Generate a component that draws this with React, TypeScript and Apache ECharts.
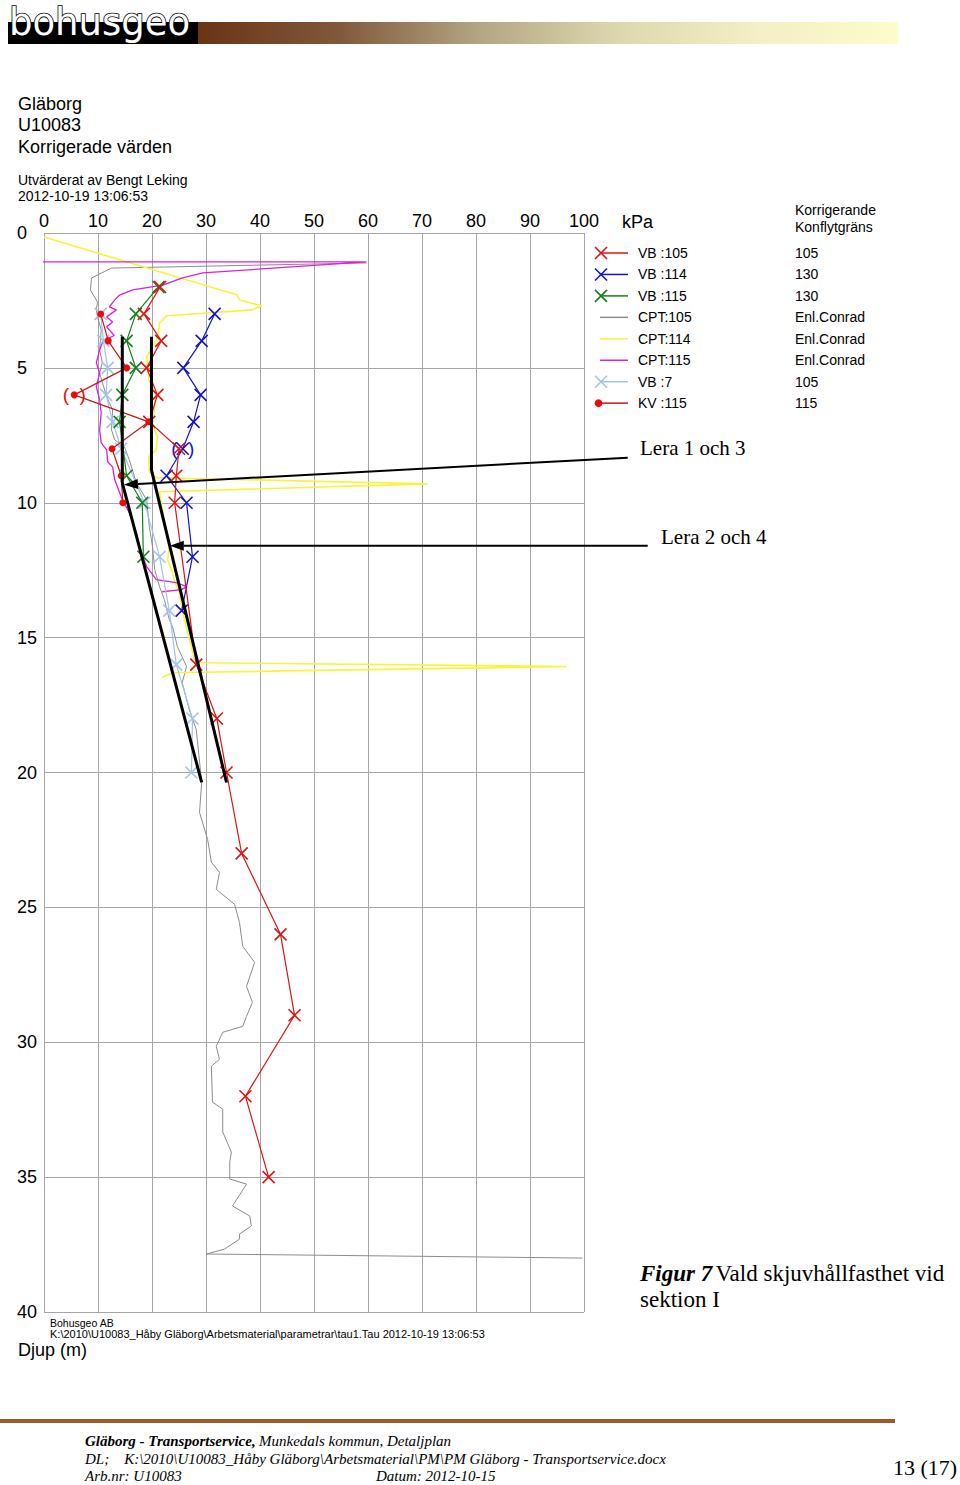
import React, { useEffect, useRef } from "react";
import * as echarts from "echarts";

// ---------- data (kPa, depth m) ----------
const xTicks = [0, 10, 20, 30, 40, 50, 60, 70, 80, 90, 100];
const depthTicks = [0, 5, 10, 15, 20, 25, 30, 35, 40];

const vb105: number[][] = [
  [21.5, 2], [18.5, 3], [21.7, 4], [19.0, 5], [21.0, 6], [19.5, 7], [25.0, 8], [24.5, 9], [24.2, 10],
  [28.2, 16], [32.0, 18], [33.8, 20], [36.6, 23], [43.8, 26], [46.4, 29], [37.3, 32], [41.6, 35],
];
const vb114: number[][] = [
  [31.6, 3], [29.2, 4], [25.8, 5], [29.0, 6], [27.7, 7], [25.7, 8], [22.7, 9], [26.4, 10], [27.5, 12], [25.5, 14],
];
const vb115: number[][] = [
  [21.2, 2], [17.0, 3], [15.3, 4], [17.0, 5], [14.5, 6], [14.0, 7], [15.3, 9], [18.2, 10], [18.4, 12],
];
const vb7: number[][] = [
  [10.5, 3], [11.0, 4], [11.8, 5], [11.5, 6], [12.7, 7], [14.3, 8], [18.6, 10], [21.4, 12], [23.2, 14],
  [24.5, 16], [27.5, 18], [27.3, 20],
];
const kv115: number[][] = [
  [10.5, 3], [11.9, 4], [15.3, 5], [5.6, 6], [19.4, 7], [12.6, 8], [14.3, 9], [14.6, 10],
];
const cpt105: number[][] = [
  [59.7, 1.11], [12.5, 1.3], [8.8, 1.67], [8.6, 2.11], [9.9, 2.56], [9.7, 2.85], [9.9, 3.11], [10.6, 3.59],
  [10.3, 4.33], [10.8, 4.8], [10.3, 5.19], [11.6, 6.07], [12.7, 6.56], [12.5, 7.3], [13.1, 7.67], [14.9, 7.93],
  [15.8, 8.41], [17.1, 9.26], [19.0, 9.89], [19.5, 10.89], [20.1, 11.63], [20.5, 12.48], [21.4, 13.11],
  [22.3, 13.59], [23.2, 14.33], [23.8, 14.59], [24.7, 15.33], [26.4, 16.07], [25.6, 16.67], [26.9, 17.67],
  [28.2, 18.41], [29.2, 20.37], [28.8, 21.48], [30.3, 22.48], [31.0, 23.33], [32.5, 23.7], [31.9, 24.33],
  [35.3, 24.89], [36.2, 25.56], [36.8, 26.44], [39.0, 27.04], [37.5, 27.93], [38.6, 28.52], [37.5, 29.04],
  [36.8, 29.41], [33.1, 29.63], [31.9, 30.15], [32.5, 30.63], [31.0, 30.89], [31.2, 32.22], [33.1, 32.48],
  [33.1, 33.33], [34.7, 34.07], [34.4, 34.44], [34.4, 35.07], [37.5, 35.26], [34.9, 36.07], [38.1, 36.44],
  [38.4, 36.81], [36.2, 37.11], [36.2, 37.3], [33.4, 37.67], [30.1, 37.85], [99.7, 38.0],
];
const cpt114: number[][] = [
  [0, 0.15], [35.8, 2.3], [36.2, 2.48], [40.3, 2.7], [38.6, 2.85], [22.7, 3.07], [21.4, 3.33], [21.0, 3.89],
  [19.0, 4.59], [19.4, 5.44], [20.8, 5.93], [20.1, 7.04], [21.0, 7.56], [20.8, 8.04], [19.4, 8.3], [19.5, 8.85],
  [20.8, 9.07], [71.0, 9.3], [21.4, 9.59], [21.9, 10.26], [22.7, 11.11], [23.2, 11.63], [22.9, 12.11],
  [23.8, 12.59], [24.2, 12.93], [25.1, 13.33], [25.6, 13.96], [26.6, 14.81], [27.9, 15.81], [28.4, 15.93],
  [96.8, 16.07], [23.8, 16.3], [21.8, 16.48],
];
const cpt115: number[][] = [
  [-6.9, 1.07], [59.7, 1.07], [29.4, 1.48], [25.5, 1.67], [22.0, 1.93], [16.4, 2.11], [14.0, 2.3], [13.1, 2.48],
  [12.1, 2.74], [13.4, 2.85], [11.6, 3.11], [12.7, 3.3], [11.6, 3.48], [13.0, 3.8], [11.0, 3.98], [10.3, 4.33],
  [9.7, 4.81], [10.3, 5.19], [9.7, 5.7], [10.3, 6.19], [10.6, 6.67], [10.3, 7.3], [10.6, 7.78], [11.6, 8.04],
  [11.8, 8.48], [12.7, 8.67], [13.1, 9.15], [14.5, 9.89], [15.8, 10.37], [17.1, 11.11], [17.7, 11.63],
  [19.0, 12.37], [20.8, 12.85], [24.5, 12.96], [26.4, 13.11], [25.5, 13.22], [21.9, 13.3],
];
const lera13: number[][] = [[14.5, 3.85], [14.5, 9.26], [29.2, 20.37]];
const lera24: number[][] = [[19.9, 3.85], [19.9, 8.78], [33.8, 20.37]];
const arrow13: number[][] = [[108.1, 8.33], [14.8, 9.33]];
const arrow24: number[][] = [[111.8, 11.59], [23.3, 11.59]];
const excludedKv = 3; // index in kv115 shown in brackets
const excludedVb114 = 5; // index in vb114 shown in brackets

const legendNames = ["VB :105", "VB :114", "VB :115", "CPT:105", "CPT:114", "CPT:115", "VB :7", "KV :115"];
const legendValues = ["105", "130", "130", "Enl.Conrad", "Enl.Conrad", "Enl.Conrad", "105", "115"];

// ---------- styles ----------
const C = {
  vb105: "#dd1515",
  vb114: "#1414c8",
  vb115: "#15801a",
  cpt105: "#8c8c8c",
  cpt114: "#f6f53c",
  cpt115: "#dc20dc",
  vb7: "#a2c4e6",
  kvLine: "#c41a1a",
  kvDot: "#ee0a0a",
};
const legendColors = [C.vb105, C.vb114, C.vb115, C.cpt105, C.cpt114, C.cpt115, C.vb7, C.kvLine];
const legendKinds = ["x", "x", "x", "l", "l", "l", "x", "o"];
const SANS = "Arial, 'Liberation Sans', Helvetica, sans-serif";
const SERIF = "'Times New Roman', 'Liberation Serif', serif";
const XSYM = "path://M0,0L10,10M10,0L0,10";

function vbSeries(name: string, data: any[], color: string, z: number) {
  return {
    name,
    type: "line",
    data,
    clip: false,
    silent: true,
    z,
    symbol: XSYM,
    symbolSize: 12,
    showAllSymbol: true,
    itemStyle: { color, borderColor: color, borderWidth: 1.6 },
    lineStyle: { color, width: 1.2 },
    emphasis: { disabled: true },
  };
}
function cptSeries(name: string, data: any[], color: string, width: number, z: number) {
  return {
    name,
    type: "line",
    data,
    clip: false,
    silent: true,
    z,
    showSymbol: false,
    symbol: "none",
    lineStyle: { color, width },
    emphasis: { disabled: true },
  };
}

function buildLegend() {
  const els: any[] = [];
  const y0 = 253;
  const dy = 21.45;
  legendNames.forEach((n, i) => {
    const y = y0 + i * dy;
    const col = legendColors[i];
    const kind = legendKinds[i];
    els.push({ type: "line", shape: { x1: kind === "l" ? 600 : 601, y1: y, x2: 628, y2: y }, style: { stroke: col, lineWidth: 1.5 } });
    if (kind === "x") {
      els.push({ type: "line", shape: { x1: 595, y1: y - 6, x2: 607, y2: y + 6 }, style: { stroke: col, lineWidth: 1.6 } });
      els.push({ type: "line", shape: { x1: 607, y1: y - 6, x2: 595, y2: y + 6 }, style: { stroke: col, lineWidth: 1.6 } });
    } else if (kind === "o") {
      els.push({ type: "circle", shape: { cx: 598.5, cy: y, r: 3.8 }, style: { fill: C.kvDot } });
    }
    els.push({ type: "text", x: 638, y, style: { text: n, font: `14px ${SANS}`, fill: "#000", textVerticalAlign: "middle" } });
    els.push({ type: "text", x: 795, y, style: { text: legendValues[i], font: `14px ${SANS}`, fill: "#000", textVerticalAlign: "middle" } });
  });
  return els;
}

function buildGraphic() {
  const t = (text: string, x: number, y: number, font: string, extra: any = {}) => ({
    type: "text",
    x,
    y,
    style: { text, font, fill: "#000", textVerticalAlign: "middle", ...extra },
  });
  return [
    // header
    { type: "rect", shape: { x: 8, y: 22, width: 190, height: 22 }, style: { fill: "#000" } },
    {
      type: "rect",
      shape: { x: 198, y: 22, width: 700, height: 22 },
      style: {
        fill: new echarts.graphic.LinearGradient(0, 0, 1, 0, [
          { offset: 0, color: "#6a3414" },
          { offset: 0.2, color: "#80583a" },
          { offset: 0.4, color: "#b3a582" },
          { offset: 0.6, color: "#dcd8ae" },
          { offset: 0.8, color: "#f2f0c4" },
          { offset: 1, color: "#fdfccb" },
        ]),
      },
    },
    {
      type: "text",
      x: 9,
      y: 22,
      z: 5,
      style: {
        text: "bohusgeo",
        font: "37px 'DejaVu Sans', Verdana, sans-serif",
        fill: "#fff",
        stroke: "#000",
        lineWidth: 1.6,
        textVerticalAlign: "middle",
      },
    },
    // titles
    t("Gläborg", 18, 104, `18px ${SANS}`),
    t("U10083", 18, 125, `18px ${SANS}`),
    t("Korrigerade värden", 18, 147, `18px ${SANS}`),
    t("Utvärderat av Bengt Leking", 18, 180, `14px ${SANS}`),
    t("2012-10-19 13:06:53", 18, 196, `14px ${SANS}`),
    t("kPa", 622, 222, `18px ${SANS}`),
    t("Korrigerande", 795, 210, `14px ${SANS}`),
    t("Konflytgräns", 795, 227, `14px ${SANS}`),
    ...buildLegend(),
    t("Lera 1 och 3", 640, 448, `21px ${SERIF}`),
    t("Lera 2 och 4", 661, 537, `21px ${SERIF}`),
    t("Bohusgeo AB", 50, 1323, `10.5px ${SANS}`),
    t("K:\\2010\\U10083_Håby Gläborg\\Arbetsmaterial\\parametrar\\tau1.Tau 2012-10-19 13:06:53", 50, 1334, `11px ${SANS}`),
    t("Djup (m)", 18, 1350, `18px ${SANS}`),
    {
      type: "text",
      x: 640,
      y: 1273,
      style: {
        rich: {
          b: { font: `bold italic 23px ${SERIF}`, fill: "#000" },
          n: { font: `23px ${SERIF}`, fill: "#000" },
        },
        text: "{b|Figur 7} {n|Vald skjuvhållfasthet vid}",
        textVerticalAlign: "middle",
      },
    },
    t("sektion I", 640, 1299, `23px ${SERIF}`),
    // footer
    { type: "rect", shape: { x: 0, y: 1419, width: 895, height: 4 }, style: { fill: "#9b5a28" } },
    {
      type: "text",
      x: 85,
      y: 1441,
      style: {
        rich: {
          b: { font: `bold italic 15px ${SERIF}`, fill: "#000" },
          n: { font: `italic 15px ${SERIF}`, fill: "#000" },
        },
        text: "{b|Gläborg - Transportservice,} {n|Munkedals kommun, Detaljplan}",
        textVerticalAlign: "middle",
      },
    },
    t("DL;    K:\\2010\\U10083_Håby Gläborg\\Arbetsmaterial\\PM\\PM Gläborg - Transportservice.docx", 85, 1459, `italic 15px ${SERIF}`),
    t("Arb.nr: U10083", 85, 1476, `italic 15px ${SERIF}`),
    t("Datum: 2012-10-15", 376, 1476, `italic 15px ${SERIF}`),
    t("13 (17)", 893, 1467, `22px ${SERIF}`),
  ];
}

function bracketItem(p: number[], color: string) {
  return {
    value: p,
    label: {
      show: true,
      position: "inside",
      formatter: "(  )",
      color,
      fontSize: 19,
      fontFamily: SANS,
    },
  };
}

export default function App() {
  const ref = useRef<HTMLDivElement>(null);
  useEffect(() => {
    document.body.style.margin = "0";
    const chart = echarts.init(ref.current!, null, { renderer: "svg" });
    const kvData: any[] = kv115.map((p, i) => (i === excludedKv ? bracketItem(p, C.kvDot) : p));
    const vb114Data: any[] = vb114.map((p, i) => (i === excludedVb114 ? bracketItem(p, C.vb114) : p));
    const option: any = {
      animation: false,
      backgroundColor: "#fff",
      grid: { left: 44, top: 233, width: 540, height: 1079, containLabel: false },
      xAxis: {
        type: "value",
        position: "top",
        min: xTicks[0],
        max: xTicks[xTicks.length - 1],
        interval: 10,
        axisLine: { show: false },
        axisTick: { show: false },
        axisLabel: { color: "#000", fontSize: 18, fontFamily: SANS, margin: 3 },
        splitLine: { show: true, lineStyle: { color: "#a6a6a6", width: 1 } },
      },
      yAxis: {
        type: "value",
        inverse: true,
        min: depthTicks[0],
        max: depthTicks[depthTicks.length - 1],
        interval: 5,
        axisLine: { show: false },
        axisTick: { show: false },
        axisLabel: { color: "#000", fontSize: 18, fontFamily: SANS, align: "left", margin: 27 },
        splitLine: { show: true, lineStyle: { color: "#a6a6a6", width: 1 } },
      },
      graphic: buildGraphic(),
      series: [
        cptSeries("CPT:105", cpt105, C.cpt105, 1, 2),
        cptSeries("CPT:114", cpt114, C.cpt114, 1.6, 3),
        cptSeries("CPT:115", cpt115, C.cpt115, 1.3, 4),
        vbSeries("VB :7", vb7, C.vb7, 5),
        vbSeries("VB :115", vb115, C.vb115, 6),
        vbSeries("VB :114", vb114Data, C.vb114, 7),
        vbSeries("VB :105", vb105, C.vb105, 8),
        {
          name: "KV :115",
          type: "line",
          data: kvData,
          clip: false,
          silent: true,
          z: 9,
          symbol: "circle",
          symbolSize: 7,
          showAllSymbol: true,
          itemStyle: { color: C.kvDot },
          lineStyle: { color: C.kvLine, width: 1.2 },
          emphasis: { disabled: true },
        },
        {
          name: "Lera 1 och 3",
          type: "line",
          data: lera13,
          clip: false,
          silent: true,
          z: 10,
          symbol: "none",
          lineStyle: { color: "#000", width: 3 },
          emphasis: { disabled: true },
        },
        {
          name: "Lera 2 och 4",
          type: "line",
          data: lera24,
          clip: false,
          silent: true,
          z: 10,
          symbol: "none",
          lineStyle: { color: "#000", width: 3 },
          emphasis: { disabled: true },
        },
      ],
    };
    chart.setOption(option);

    // arrows: positions converted from data coordinates through the chart's axes
    const arrowEls: any[] = [];
    [arrow13, arrow24].forEach((a) => {
      const p0 = chart.convertToPixel({ gridIndex: 0 }, a[0]) as number[];
      const p1 = chart.convertToPixel({ gridIndex: 0 }, a[1]) as number[];
      const dx = p1[0] - p0[0];
      const dy = p1[1] - p0[1];
      const L = Math.hypot(dx, dy) || 1;
      const ux = dx / L;
      const uy = dy / L;
      const head = 14;
      const half = 5;
      const bx = p1[0] - ux * head;
      const by = p1[1] - uy * head;
      const nx = -uy;
      const ny = ux;
      arrowEls.push({
        type: "line",
        z: 100,
        shape: { x1: p0[0], y1: p0[1], x2: bx, y2: by },
        style: { stroke: "#000", lineWidth: 2 },
      });
      arrowEls.push({
        type: "polygon",
        z: 100,
        shape: { points: [[p1[0], p1[1]], [bx + nx * half, by + ny * half], [bx - nx * half, by - ny * half]] },
        style: { fill: "#000" },
      });
    });
    chart.setOption({ graphic: [...buildGraphic(), ...arrowEls] }, { replaceMerge: ["graphic"] } as any);
    return () => chart.dispose();
  }, []);
  return <div ref={ref} style={{ width: 960, height: 1485 }} />;
}
